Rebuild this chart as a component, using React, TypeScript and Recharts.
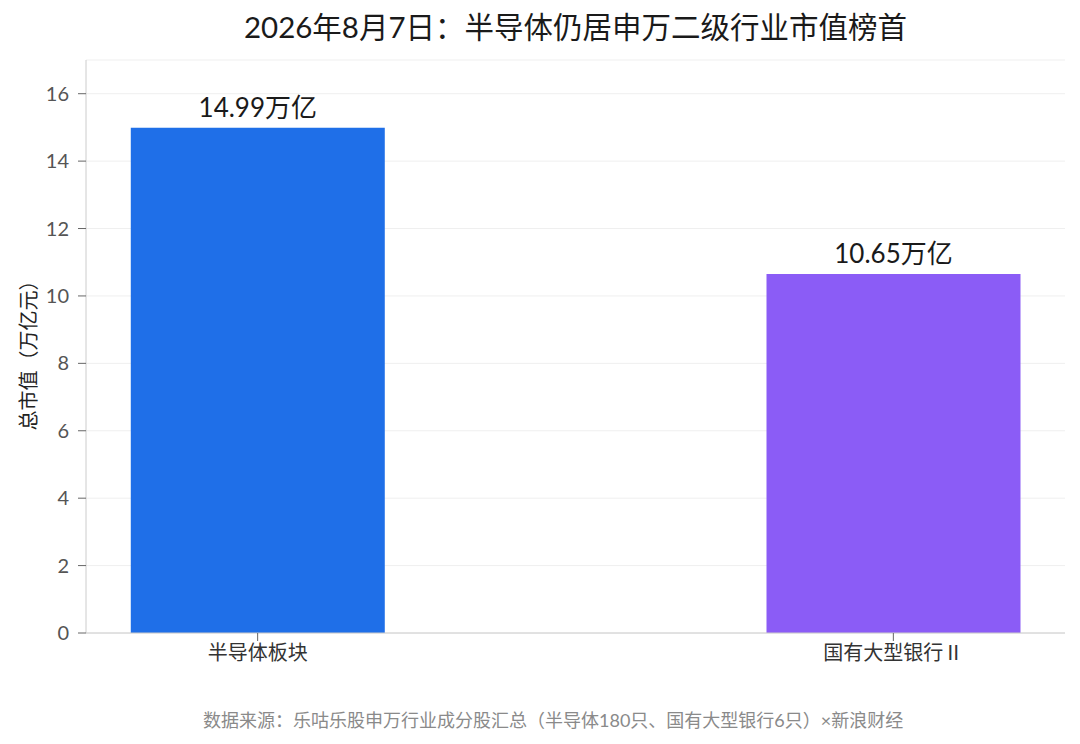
import { BarChart, Bar, XAxis, YAxis, CartesianGrid, Cell, LabelList } from 'recharts'

// 申万二级行业总市值（万亿元），2026-08-07
const categories = ['半导体板块', '国有大型银行Ⅱ']
const marketCap = [14.99, 10.65]
const barColors = ['#1f6fe8', '#8b5cf6']
const yTicks = [0, 2, 4, 6, 8, 10, 12, 14, 16]

const data = categories.map((name, i) => ({ x: i, name, value: marketCap[i] }))

const FONT = 'Lato, "Noto Sans CJK SC", "Noto Sans", sans-serif'

export default function App() {
  document.body.style.margin = '0'

  return (
    <div style={{ position: 'relative', width: 1080, height: 744, background: '#fff', fontFamily: FONT }}>
      <div
        style={{
          position: 'absolute',
          top: 7,
          left: 86,
          width: 979,
          textAlign: 'center',
          fontSize: 29.5,
          color: '#1a1a1a',
          lineHeight: '40px',
        }}
      >
        2026年8月7日：半导体仍居申万二级行业市值榜首
      </div>

      <BarChart
        width={1080}
        height={744}
        data={data}
        margin={{ top: 60, right: 15, bottom: 0, left: 0 }}
        style={{ fontFamily: FONT }}
      >
        <CartesianGrid vertical={false} stroke="#efefef" />
        <XAxis
          type="number"
          dataKey="x"
          domain={[-0.27, 1.27]}
          ticks={[0, 1]}
          allowDecimals={false}
          tickFormatter={(v: number) => categories[v]}
          height={111}
          stroke="#cccccc"
          tickLine={{ stroke: '#666' }}
          tickSize={8}
          tick={{ fill: '#333', fontSize: 20 }}
          tickMargin={5}
        />
        <YAxis
          type="number"
          domain={[0, 17]}
          ticks={yTicks}
          width={86}
          stroke="#cccccc"
          tickLine={{ stroke: '#666' }}
          tickSize={8}
          tickMargin={9}
          tick={{ fill: '#555', fontSize: 20 }}
          label={{
            value: '总市值（万亿元）',
            angle: -90,
            position: 'center',
            dx: -14,
            dy: 4,
            fill: '#222',
            fontSize: 20,
          }}
        />
        <Bar dataKey="value" barSize={254} isAnimationActive={false}>
          {data.map((d, i) => (
            <Cell key={d.name} fill={barColors[i]} />
          ))}
          <LabelList
            dataKey="value"
            position="top"
            offset={11}
            formatter={(v: number) => `${v}万亿`}
            style={{ fill: '#1a1a1a', fontSize: 26 }}
          />
        </Bar>
      </BarChart>

      <div
        style={{
          position: 'absolute',
          top: 706,
          left: 203,
          fontSize: 18,
          color: '#8a8a8a',
          whiteSpace: 'nowrap',
        }}
      >
        数据来源：乐咕乐股申万行业成分股汇总（半导体180只、国有大型银行6只）×新浪财经
      </div>
    </div>
  )
}
